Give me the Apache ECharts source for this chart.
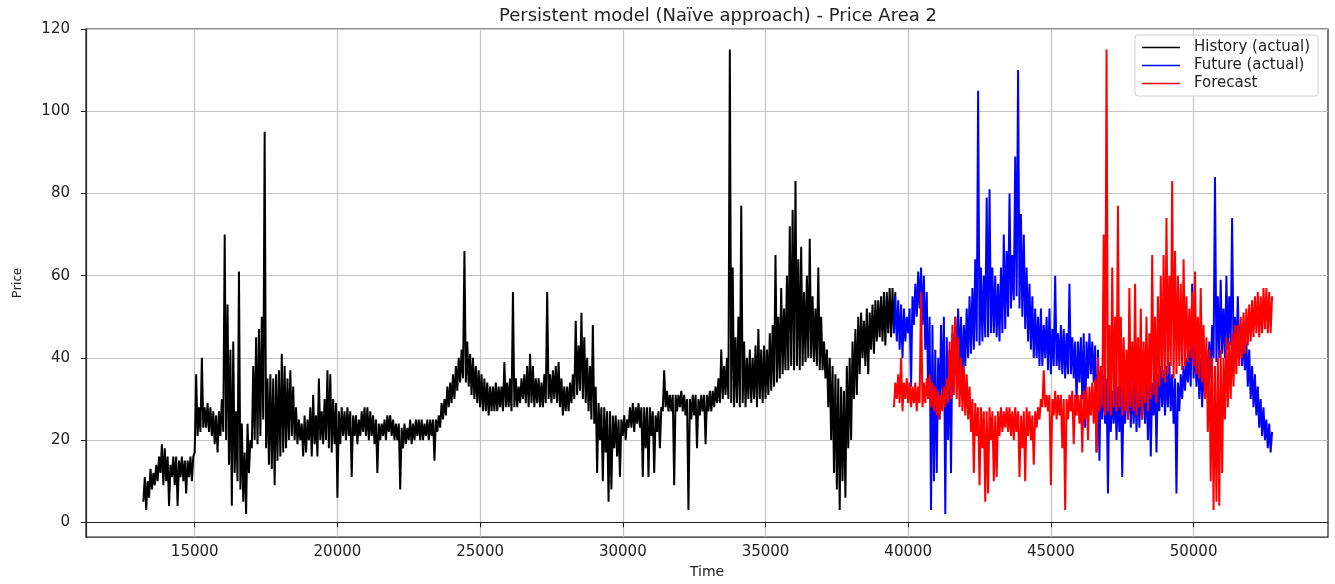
<!DOCTYPE html>
<html>
<head>
<meta charset="utf-8">
<style>
  html, body { margin: 0; padding: 0; background: #fff; }
  #chart { width: 1335px; height: 584px; }
</style>
<script src="https://cdn.jsdelivr.net/npm/echarts@6/dist/echarts.min.js"></script>
</head>
<body>
<div id="chart"></div>
<script>
// Hourly prices, summarised per 100-step bin as the bin's low and high.
const step = 100;
const historyStart = 13200;
const futureStart = 39500;

const xTicks = [15000, 20000, 25000, 30000, 35000, 40000, 45000, 50000];
const yTicks = [0, 20, 40, 60, 80, 100, 120];

// History (actual), bins 13200 .. 39500
const historyLow = [
  5, 3, 6, 8, 9, 10, 12, 9,
  10, 4, 11, 9, 4, 11, 10, 7, 11, 10,
  17, 21, 22, 23, 23, 22, 21, 19, 17, 21,
  22, 20, 14, 4, 12, 10, 8, 5, 2, 12,
  18, 20, 19, 21, 25, 18, 14, 13, 9, 15,
  16, 17, 18, 20, 21, 20, 19, 20, 16, 17,
  20, 16, 19, 16, 20, 19, 20, 18, 17, 19,
  6, 19, 21, 20, 21, 11, 21, 19, 21, 22,
  21, 20, 21, 19, 12, 20, 21, 20, 22, 21,
  20, 20, 8, 18, 19, 20, 19, 20, 21, 20,
  20, 21, 20, 21, 15, 22, 23, 25, 26, 28,
  29, 30, 32, 34, 35, 34, 33, 31, 30, 29,
  28, 27, 27, 26, 27, 27, 27, 28, 27, 28,
  28, 27, 28, 28, 29, 30, 29, 28, 29, 28,
  29, 28, 28, 29, 30, 29, 30, 29, 28, 26,
  27, 27, 29, 30, 31, 32, 30, 29, 27, 25,
  24, 12, 20, 10, 17, 5, 8, 18, 16, 11,
  21, 20, 23, 23, 22, 24, 23, 11, 18, 11,
  21, 12, 22, 18, 27, 28, 27, 27, 9, 27,
  28, 27, 26, 3, 25, 26, 18, 26, 27, 19,
  27, 27, 28, 29, 29, 30, 31, 30, 29, 28,
  29, 28, 29, 28, 30, 29, 30, 28, 30, 29,
  30, 31, 32, 33, 34, 35, 36, 37, 37, 38,
  37, 38, 37, 38, 39, 40, 40, 39, 38, 37,
  37, 35, 28, 20, 12, 8, 3, 10, 6, 18,
  20, 30, 31, 36, 40, 38, 36, 42, 41, 44,
  45, 44, 43, 46, 45, 46
];
const historyHigh = [
  11, 10, 13, 12, 14, 16, 19, 18,
  16, 14, 16, 16, 15, 16, 15, 15, 16, 16,
  36, 28, 40, 28, 29, 28, 27, 26, 27, 30,
  70, 53, 42, 44, 27, 61, 24, 17, 24, 20,
  38, 45, 47, 50, 95, 35, 36, 35, 36, 37,
  41, 38, 35, 37, 33, 28, 25, 24, 26, 25,
  28, 31, 26, 35, 27, 30, 37, 36, 30, 29,
  27, 28, 27, 28, 27, 26, 26, 25, 27, 28,
  28, 27, 26, 25, 24, 24, 25, 26, 26, 25,
  24, 24, 23, 24, 23, 25, 24, 25, 25, 25,
  24, 25, 25, 25, 25, 26, 29, 30, 33, 34,
  36, 38, 40, 42, 66, 44, 41, 40, 38, 37,
  36, 35, 34, 33, 33, 34, 33, 33, 39, 34,
  35, 56, 35, 33, 35, 36, 38, 41, 38, 35,
  35, 34, 36, 56, 36, 37, 38, 39, 35, 33,
  33, 34, 36, 49, 43, 51, 45, 40, 38, 48,
  33, 29, 28, 28, 27, 27, 26, 26, 25, 25,
  26, 25, 28, 29, 28, 29, 28, 28, 28, 28,
  27, 26, 27, 28, 37, 32, 31, 31, 31, 31,
  32, 31, 30, 30, 31, 31, 30, 31, 31, 31,
  32, 32, 33, 35, 42, 38, 40, 115, 62, 45,
  50, 77, 44, 40, 42, 40, 43, 47, 42, 43,
  42, 46, 48, 65, 50, 57, 52, 60, 72, 76,
  83, 64, 67, 56, 60, 69, 55, 52, 62, 50,
  44, 42, 40, 38, 36, 35, 33, 32, 38, 40,
  44, 47, 50, 51, 49, 52, 51, 53, 54, 54,
  55, 56, 56, 57, 57, 56
];

// Future (actual), bins 39500 .. 52700
const futureLow = [
  46, 44, 42, 40, 44,
  46, 33, 48, 50, 52, 48, 42, 30, 3, 10,
  12, 25, 30, 2, 20, 12, 34, 36, 38, 34,
  38, 40, 41, 42, 44, 43, 44, 45, 45, 46,
  46, 45, 44, 46, 47, 50, 52, 54, 55, 52,
  50, 47, 44, 42, 40, 40, 38, 38, 40, 37,
  36, 38, 38, 37, 36, 35, 36, 36, 35, 29,
  34, 30, 23, 35, 36, 34, 17, 15, 25, 24,
  7, 22, 24, 20, 22, 11, 24, 25, 23, 24,
  22, 23, 25, 24, 20, 16, 26, 17, 27, 28,
  26, 28, 27, 24, 7, 27, 30, 32, 34, 33,
  35, 33, 30, 28, 30, 32, 35, 40, 39, 40,
  41, 40, 42, 43, 41, 40, 40, 38, 37, 33,
  30, 28, 26, 23, 21, 20, 18, 17
];
const futureHigh = [
  55, 54, 53, 52, 50,
  52, 55, 58, 61, 62, 60, 56, 50, 48, 42,
  40, 48, 50, 45, 42, 46, 50, 52, 50, 48,
  52, 55, 57, 64, 105, 62, 60, 79, 81, 62,
  60, 58, 62, 70, 66, 80, 65, 89, 110, 75,
  70, 62, 58, 55, 52, 50, 52, 48, 50, 52,
  47, 60, 46, 48, 47, 46, 58, 45, 44, 44,
  45, 46, 44, 46, 44, 43, 42, 38, 36, 35,
  34, 32, 34, 33, 34, 33, 36, 35, 34, 35,
  36, 34, 37, 35, 36, 34, 37, 36, 38, 37,
  38, 39, 36, 35, 34, 36, 38, 40, 42, 58,
  44, 42, 40, 40, 42, 44, 48, 84, 55, 59,
  52, 60, 55, 74, 50, 55, 48, 46, 44, 42,
  38, 36, 33, 30, 28, 25, 24, 22
];

// Forecast, bins 39500 .. 52700
const forecastLow = [
  28, 30, 29, 27, 30,
  29, 28, 29, 27, 29, 28, 29, 30, 28, 27,
  26, 25, 27, 28, 29, 30, 31, 30, 28, 27,
  26, 25, 22, 12, 21, 9, 18, 5, 7, 20,
  10, 11, 21, 22, 23, 22, 21, 20, 22, 11,
  18, 10, 21, 20, 14, 23, 25, 28, 28, 27,
  9, 26, 25, 26, 18, 3, 25, 27, 19, 26,
  24, 17, 25, 20, 26, 24, 17, 27, 28, 26,
  27, 26, 28, 27, 28, 26, 27, 25, 28, 27,
  26, 28, 25, 29, 27, 30, 31, 29, 33, 35,
  34, 36, 38, 35, 36, 38, 37, 38, 39, 40,
  38, 36, 35, 34, 30, 22, 10, 3, 5, 4,
  12, 25, 28, 30, 33, 36, 38, 40, 41, 43,
  44, 45, 46, 45, 46, 47, 46, 46
];
const forecastHigh = [
  34, 36, 40, 34, 35,
  34, 33, 34, 33, 56, 34, 35, 36, 34, 33,
  32, 31, 33, 35, 44, 48, 50, 45, 40, 38,
  36, 33, 30, 29, 28, 28, 27, 27, 28, 27,
  26, 27, 28, 27, 28, 28, 27, 28, 27, 26,
  27, 28, 27, 26, 27, 28, 30, 37, 31, 31,
  30, 32, 31, 31, 30, 30, 31, 32, 31, 31,
  31, 32, 33, 33, 34, 35, 40, 38, 70, 115,
  48, 62, 50, 77, 50, 45, 42, 57, 44, 58,
  45, 52, 44, 50, 46, 65, 50, 55, 60, 65,
  74, 60, 83, 66, 60, 58, 64, 55, 52, 56,
  61, 50, 57, 48, 45, 42, 40, 38, 40, 42,
  40, 45, 44, 46, 48, 48, 50, 51, 52, 53,
  54, 55, 56, 55, 57, 57, 56, 55
];

const seriesNames = ['History (actual)', 'Future (actual)', 'Forecast'];
const titleText = 'Persistent model (Na\u00efve approach) - Price Area 2';

// Each bin is drawn as its low followed by its high half a step later,
// so the hourly swings render as a dense band of vertical strokes.
function toBandPoints(start, lows, highs) {
  const pts = [];
  lows.forEach((lo, i) => {
    const t = start + i * step;
    pts.push([t, lo]);
    pts.push([t + step / 2, highs[i]]);
  });
  return pts;
}

const baseFont = 'DejaVu Sans';
const titleSize = 18;

// centre the title over the plot area
const measureCtx = document.createElement('canvas').getContext('2d');
measureCtx.font = titleSize + 'px "' + baseFont + '"';
const titleWidth = measureCtx.measureText(titleText).width;
const plotLeft = 86, plotRight = 1328;
const titleLeft = Math.round((plotLeft + plotRight) / 2 + 11 - titleWidth / 2);

const chart = echarts.init(document.getElementById('chart'), null, { renderer: 'canvas' });

const axisColor = '#222';
const gridColor = '#c4c4c4';
const lineWidth = 2;

chart.setOption({
  animation: false,
  backgroundColor: '#fff',
  title: {
    text: titleText,
    left: titleLeft,
    top: 7,
    padding: 0,
    textStyle: { fontFamily: baseFont, fontSize: titleSize, fontWeight: 'normal', color: '#222' }
  },
  legend: {
    orient: 'vertical',
    right: 17,
    top: 35,
    padding: [5, 8, 5, 7],
    itemGap: 3,
    icon: 'rect',
    itemWidth: 38,
    itemHeight: 1.6,
    backgroundColor: 'rgba(255,255,255,0.85)',
    borderColor: '#d0d0d0',
    borderWidth: 1,
    borderRadius: 3,
    textStyle: { fontFamily: baseFont, fontSize: 15, color: '#222', padding: [0, 0, 0, 9] },
    data: seriesNames
  },
  grid: {
    left: plotLeft,
    right: 1335 - plotRight,
    top: 29,
    bottom: 41,
    show: true,
    borderColor: axisColor,
    borderWidth: 1.2,
    backgroundColor: 'transparent'
  },
  xAxis: {
    type: 'value',
    min: 11190,
    max: 54710,
    splitNumber: 8,
    name: 'Time',
    nameLocation: 'middle',
    nameGap: 22,
    nameTextStyle: { fontFamily: baseFont, fontSize: 14, color: '#222' },
    axisLine: { show: true, lineStyle: { color: axisColor, width: 1.2 } },
    axisTick: { show: true, length: 5, customValues: xTicks, lineStyle: { color: axisColor } },
    axisLabel: {
      margin: 8,
      fontFamily: baseFont,
      fontSize: 15,
      color: '#222',
      customValues: xTicks,
      formatter: v => (v % 5000 === 0 ? String(v) : '')
    },
    splitLine: { show: true, lineStyle: { color: gridColor, width: 1.2 } }
  },
  yAxis: {
    type: 'value',
    min: -3.6,
    max: 120,
    splitNumber: 6,
    name: 'Price',
    nameLocation: 'middle',
    nameGap: 62,
    nameRotate: 90,
    nameTextStyle: { fontFamily: 'Noto Sans', fontSize: 13, color: '#222' },
    axisLine: { show: true, lineStyle: { color: axisColor, width: 1.2 } },
    axisTick: { show: true, length: 5, customValues: yTicks, lineStyle: { color: axisColor } },
    axisLabel: {
      margin: 16,
      fontFamily: baseFont,
      fontSize: 15,
      color: '#222',
      customValues: yTicks,
      formatter: v => (Math.abs(v % 20) < 1e-6 ? String(v) : '')
    },
    splitLine: { show: true, lineStyle: { color: gridColor, width: 1.2 } }
  },
  series: [
    {
      name: seriesNames[0],
      type: 'line',
      data: toBandPoints(historyStart, historyLow, historyHigh),
      symbol: 'none',
      color: '#000000',
      lineStyle: { width: lineWidth, color: '#000000' },
      z: 2
    },
    {
      name: seriesNames[1],
      type: 'line',
      data: toBandPoints(futureStart, futureLow, futureHigh),
      symbol: 'none',
      color: '#0000ff',
      lineStyle: { width: lineWidth, color: '#0000ff' },
      z: 3
    },
    {
      name: seriesNames[2],
      type: 'line',
      data: toBandPoints(futureStart, forecastLow, forecastHigh),
      symbol: 'none',
      color: '#ff0000',
      lineStyle: { width: lineWidth, color: '#ff0000' },
      z: 4
    }
  ]
});
</script>
</body>
</html>
